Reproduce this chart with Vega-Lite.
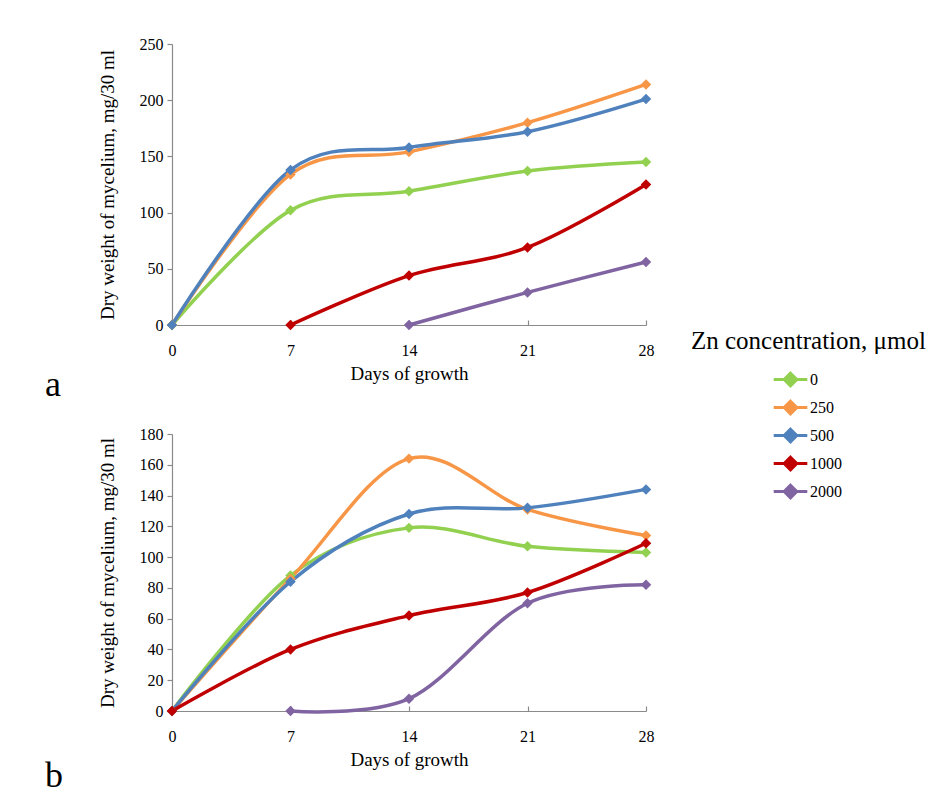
{
  "$schema": "https://vega.github.io/schema/vega-lite/v6.json",
  "background": "white",
  "padding": {"left": 45, "top": 36, "right": 5, "bottom": 5},
  "datasets": {
    "a": [
      {"day": 0, "conc": 0, "w": 0}, {"day": 7, "conc": 0, "w": 102}, {"day": 14, "conc": 0, "w": 119}, {"day": 21, "conc": 0, "w": 137}, {"day": 28, "conc": 0, "w": 145},
      {"day": 0, "conc": 250, "w": 0}, {"day": 7, "conc": 250, "w": 134}, {"day": 14, "conc": 250, "w": 154}, {"day": 21, "conc": 250, "w": 180}, {"day": 28, "conc": 250, "w": 214},
      {"day": 0, "conc": 500, "w": 0}, {"day": 7, "conc": 500, "w": 138}, {"day": 14, "conc": 500, "w": 158}, {"day": 21, "conc": 500, "w": 172}, {"day": 28, "conc": 500, "w": 201},
      {"day": 7, "conc": 1000, "w": 0}, {"day": 14, "conc": 1000, "w": 44}, {"day": 21, "conc": 1000, "w": 69}, {"day": 28, "conc": 1000, "w": 125},
      {"day": 14, "conc": 2000, "w": 0}, {"day": 21, "conc": 2000, "w": 29}, {"day": 28, "conc": 2000, "w": 56}
    ],
    "b": [
      {"day": 0, "conc": 0, "w": 0}, {"day": 7, "conc": 0, "w": 88}, {"day": 14, "conc": 0, "w": 119}, {"day": 21, "conc": 0, "w": 107}, {"day": 28, "conc": 0, "w": 103},
      {"day": 0, "conc": 250, "w": 0}, {"day": 7, "conc": 250, "w": 86}, {"day": 14, "conc": 250, "w": 164}, {"day": 21, "conc": 250, "w": 131}, {"day": 28, "conc": 250, "w": 114},
      {"day": 0, "conc": 500, "w": 0}, {"day": 7, "conc": 500, "w": 84}, {"day": 14, "conc": 500, "w": 128}, {"day": 21, "conc": 500, "w": 132}, {"day": 28, "conc": 500, "w": 144},
      {"day": 0, "conc": 1000, "w": 0}, {"day": 7, "conc": 1000, "w": 40}, {"day": 14, "conc": 1000, "w": 62}, {"day": 21, "conc": 1000, "w": 77}, {"day": 28, "conc": 1000, "w": 109},
      {"day": 7, "conc": 2000, "w": 0}, {"day": 14, "conc": 2000, "w": 8}, {"day": 21, "conc": 2000, "w": 70}, {"day": 28, "conc": 2000, "w": 82}
    ]
  },
  "vconcat": [
    {
      "data": {"name": "a"},
      "width": 474,
      "height": 281,
      "title": {"text": "a", "orient": "bottom", "anchor": "start", "dx": -127, "offset": -15, "fontSize": 36, "font": "Liberation Serif", "fontWeight": "normal", "color": "black", "frame": "group"},
      "mark": {"type": "line", "interpolate": "cardinal", "strokeWidth": 3.5, "point": {"shape": "diamond", "size": 110, "filled": true}},
      "encoding": {
        "x": {"field": "day", "type": "quantitative", "scale": {"domain": [0, 28], "nice": false}, "axis": {"values": [0, 7, 14, 21, 28], "title": "Days of growth"}},
        "y": {"field": "w", "type": "quantitative", "scale": {"domain": [0, 250]}, "axis": {"values": [0, 50, 100, 150, 200, 250], "title": "Dry weight of mycelium, mg/30 ml"}},
        "color": {"field": "conc", "type": "ordinal", "title": "Zn concentration, μmol",
          "scale": {"domain": [0, 250, 500, 1000, 2000], "range": ["#92D050", "#F79646", "#4F81BD", "#C00000", "#8064A2"]},
          "legend": {"orient": "none", "legendX": 519, "legendY": 285,
            "titleFont": "Liberation Serif", "titleFontSize": 25, "titleFontWeight": "normal", "titleColor": "#000", "titleLimit": 400,
            "labelFont": "Liberation Serif", "labelFontSize": 16, "labelColor": "#000",
            "symbolType": "M-1.2,0H1.2M0,-0.45L0.45,0L0,0.45L-0.45,0Z",
            "symbolSize": 784, "symbolStrokeWidth": 3, "symbolOffset": 84,
            "rowPadding": 0, "titlePadding": 10, "labelOffset": 4,
            "encode": {
              "symbols": {"update": {"fill": {"scale": "color", "field": "value"}, "stroke": {"scale": "color", "field": "value"}, "strokeWidth": {"value": 3}, "opacity": {"value": 1}}}}}
        }
      }
    },
    {
      "data": {"name": "b"},
      "width": 474,
      "height": 277,
      "title": {"text": "b", "orient": "bottom", "anchor": "start", "dx": -127, "offset": -10, "fontSize": 36, "font": "Liberation Serif", "fontWeight": "normal", "color": "black", "frame": "group"},
      "mark": {"type": "line", "interpolate": "cardinal", "strokeWidth": 3.5, "point": {"shape": "diamond", "size": 110, "filled": true}},
      "encoding": {
        "x": {"field": "day", "type": "quantitative", "scale": {"domain": [0, 28], "nice": false}, "axis": {"values": [0, 7, 14, 21, 28], "title": "Days of growth"}},
        "y": {"field": "w", "type": "quantitative", "scale": {"domain": [0, 180]}, "axis": {"values": [0, 20, 40, 60, 80, 100, 120, 140, 160, 180], "title": "Dry weight of mycelium, mg/30 ml"}},
        "color": {"field": "conc", "type": "ordinal", "title": "Zn concentration, μmol",
          "scale": {"domain": [0, 250, 500, 1000, 2000], "range": ["#92D050", "#F79646", "#4F81BD", "#C00000", "#8064A2"]},
          "legend": null
        }
      }
    }
  ],
  "spacing": 109,
  "bounds": "flush",
  "config": {
    "view": {"stroke": null},
    "font": "Liberation Serif",
    "axis": {
      "grid": false,
      "labelFont": "Liberation Serif", "labelFontSize": 16, "labelColor": "#000",
      "titleFont": "Liberation Serif", "titleFontSize": 19, "titleFontWeight": "normal", "titleColor": "#000",
      "domainColor": "#8a8a8a", "tickColor": "#8a8a8a", "domainWidth": 1.2, "tickWidth": 1.2
    },
    "axisX": {"tickSize": -5, "labelPadding": 22, "titlePadding": 6, "labelFlush": false},
    "axisY": {"tickSize": 5, "labelPadding": 4, "titlePadding": 22}
  }
}
